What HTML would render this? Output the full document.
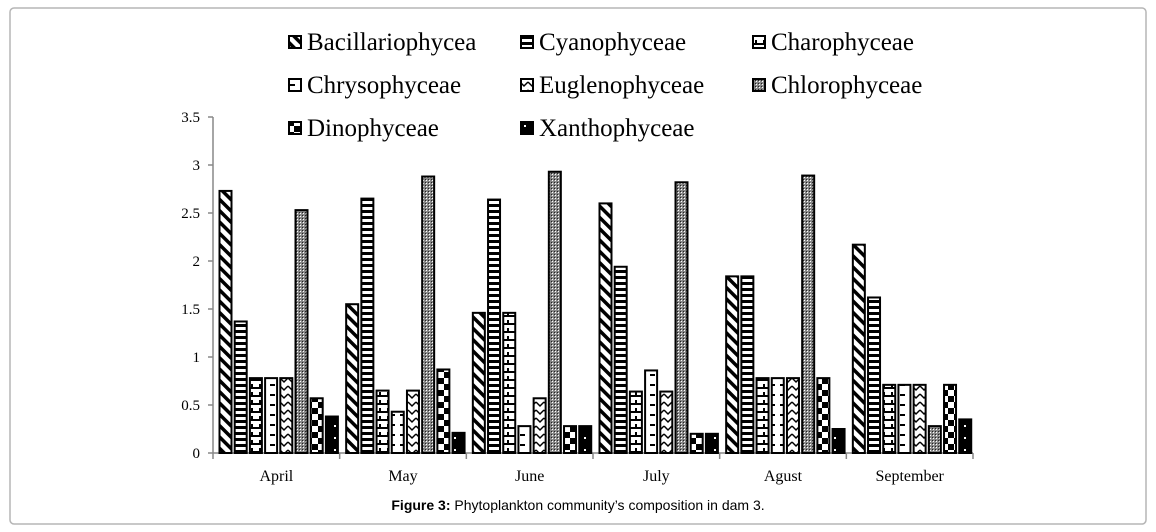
<!DOCTYPE html>
<html><head><meta charset="utf-8"><style>
html,body{margin:0;padding:0;background:#fff;width:1156px;height:532px;overflow:hidden}
svg{display:block}
text{font-family:"Liberation Serif",serif}
</style></head><body>
<svg id="chart" width="1156" height="532">
<defs>
<pattern id="p0" width="8" height="8" patternUnits="userSpaceOnUse" patternTransform="rotate(45)"><rect width="8" height="8" fill="#fff"/><rect width="8" height="3.5" fill="#000"/></pattern>
<pattern id="p1" width="6" height="6" patternUnits="userSpaceOnUse"><rect width="6" height="6" fill="#fff"/><rect width="6" height="3" fill="#000"/></pattern>
<pattern id="p2" width="8" height="8" patternUnits="userSpaceOnUse"><rect width="8" height="8" fill="#fff"/><rect y="3" width="8" height="2" fill="#000"/><rect x="3" y="0" width="2" height="4" fill="#000"/></pattern>
<pattern id="p3" width="10" height="10" patternUnits="userSpaceOnUse"><rect width="10" height="10" fill="#fff"/><rect y="4" width="5" height="2" fill="#000"/></pattern>
<pattern id="p4" width="8" height="8" patternUnits="userSpaceOnUse"><rect width="8" height="8" fill="#fff"/><path d="M0 2 L4 6 L8 2" stroke="#000" stroke-width="1.5" fill="none"/></pattern>
<pattern id="p5" width="3" height="3" patternUnits="userSpaceOnUse"><rect width="3" height="3" fill="#888"/><rect width="1" height="1" fill="#fff"/><rect x="2" y="2" width="1" height="1" fill="#222"/></pattern>
<pattern id="p6" width="12" height="12" patternUnits="userSpaceOnUse"><rect width="12" height="12" fill="#fff"/><rect width="6" height="6" fill="#000"/><rect x="6" y="6" width="6" height="6" fill="#000"/></pattern>
<pattern id="p7" width="10" height="12" patternUnits="userSpaceOnUse"><rect width="10" height="12" fill="#000"/><rect x="4" y="5" width="2" height="2" fill="#fff"/></pattern>
</defs>
<rect x="10" y="8" width="1136" height="516" rx="4" fill="none" stroke="#b5b5b5" stroke-width="1.5"/>
<g id="legend"></g>
<g id="axes"></g>
<g id="bars"></g>
<text x="578" y="510" text-anchor="middle" font-size="14" style="font-family:'Liberation Sans',sans-serif"><tspan font-weight="bold">Figure 3:</tspan> Phytoplankton community’s composition in dam 3.</text>
</svg>
<script>
const categories=["April","May","June","July","Agust","September"];
const seriesNames=["Bacillariophycea","Cyanophyceae","Charophyceae","Chrysophyceae","Euglenophyceae","Chlorophyceae","Dinophyceae","Xanthophyceae"];
const bacillario=[2.73,1.55,1.46,2.60,1.84,2.17];
const cyano=[1.37,2.65,2.64,1.94,1.84,1.62];
const charo=[0.78,0.65,1.46,0.64,0.78,0.71];
const chryso=[0.78,0.43,0.28,0.86,0.78,0.71];
const eugleno=[0.78,0.65,0.57,0.64,0.78,0.71];
const chloro=[2.53,2.88,2.93,2.82,2.89,0.28];
const dino=[0.57,0.87,0.28,0.20,0.78,0.71];
const xantho=[0.38,0.21,0.28,0.20,0.25,0.35];
const yTicks=[0,0.5,1,1.5,2,2.5,3,3.5];
const yTickLabels=["0","0.5","1","1.5","2","2.5","3","3.5"];
const series=[bacillario,cyano,charo,chryso,eugleno,chloro,dino,xantho];
const NS="http://www.w3.org/2000/svg";
const x0=213,x1=973,yBase=453,yTop=117,yMax=3.5;
const gw=(x1-x0)/categories.length;
const y=v=>yBase-(v/yMax)*(yBase-yTop);
function mk(tag,attrs,parent){const e=document.createElementNS(NS,tag);for(const k in attrs)e.setAttribute(k,attrs[k]);parent.appendChild(e);return e;}
const axes=document.getElementById('axes');
const a1=mk('line',{x1:x0,y1:yTop,x2:x0,y2:yBase,stroke:'#888','stroke-width':1.5},axes);


const a2=mk('line',{x1:x0,y1:yBase,x2:x1,y2:yBase,stroke:'#888','stroke-width':1.5},axes);


yTicks.forEach((v,i)=>{
 mk('line',{x1:x0-5,y1:y(v),x2:x0,y2:y(v),stroke:'#888','stroke-width':1.5},axes);
 const t=mk('text',{x:x0-13,y:y(v)+5,'text-anchor':'end','font-size':15},axes);
 t.textContent=yTickLabels[i];
 
 
});
for(let i=0;i<=categories.length;i++){mk('line',{x1:x0+i*gw,y1:yBase,x2:x0+i*gw,y2:yBase+6,stroke:'#888','stroke-width':1.5},axes);}
categories.forEach((c,i)=>{
 const t=mk('text',{x:x0+(i+0.5)*gw,y:481,'text-anchor':'middle','font-size':16},axes);
 t.textContent=c;
 
 
});
const bars=document.getElementById('bars');
const bw=12,step=15.2;
categories.forEach((c,i)=>{
 series.forEach((s,j)=>{
  const bx=x0+i*gw+6.5+j*step;
  const r=mk('rect',{x:bx,y:y(s[i]),width:bw,height:yBase-y(s[i]),fill:'url(#p'+j+')',stroke:'#000','stroke-width':2},bars);
  
  
 });
});
const legend=document.getElementById('legend');
const lx=[289,521,753],ly=[50,93,136];
seriesNames.forEach((n,j)=>{
 const cx=lx[j%3],cy=ly[Math.floor(j/3)];
 mk('rect',{x:cx,y:cy-14,width:12,height:12,fill:'url(#p'+j+')',stroke:'#000','stroke-width':2},legend);
 const t=mk('text',{x:cx+18,y:cy,'font-size':25},legend);
 t.textContent=n;
 
 
});
</script>
</body></html>
